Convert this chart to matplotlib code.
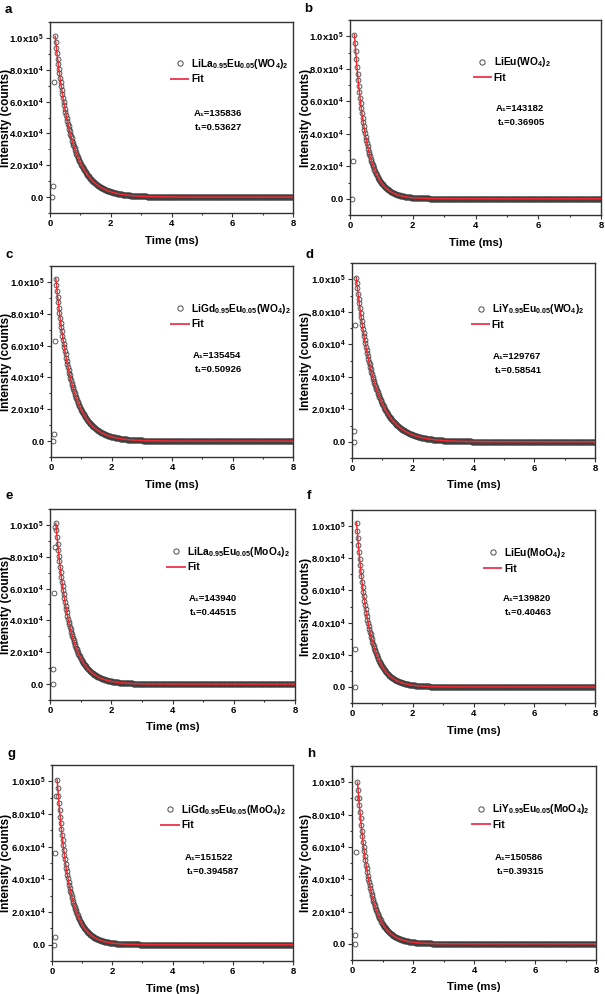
import numpy as np
import matplotlib

matplotlib.use("Agg")
import matplotlib.pyplot as plt
from matplotlib.lines import Line2D
from matplotlib.ticker import FixedLocator, MultipleLocator

plt.rcParams.update({
    "font.family": ["Liberation Sans", "DejaVu Sans"],
    "font.weight": "bold",
    "mathtext.fontset": "custom",
    "mathtext.rm": "Liberation Sans:bold",
    "mathtext.bf": "Liberation Sans:bold",
    "mathtext.it": "Liberation Sans:bold",
    "mathtext.default": "bf",
})

# panel data
panel_ids = ["a", "b", "c", "d", "e", "f", "g", "h"]
sample_names = [
    "LiLa$_{0.95}$Eu$_{0.05}$(WO$_4$)$_2$",
    "LiEu(WO$_4$)$_2$",
    "LiGd$_{0.95}$Eu$_{0.05}$(WO$_4$)$_2$",
    "LiY$_{0.95}$Eu$_{0.05}$(WO$_4$)$_2$",
    "LiLa$_{0.95}$Eu$_{0.05}$(MoO$_4$)$_2$",
    "LiEu(MoO$_4$)$_2$",
    "LiGd$_{0.95}$Eu$_{0.05}$(MoO$_4$)$_2$",
    "LiY$_{0.95}$Eu$_{0.05}$(MoO$_4$)$_2$",
]
amp_text = ["135836", "143182", "135454", "129767", "143940", "139820", "151522", "150586"]
tau_text = ["0.53627", "0.36905", "0.50926", "0.58541", "0.44515", "0.40463", "0.394587", "0.39315"]
tau_ms = [0.53627, 0.36905, 0.50926, 0.58541, 0.44515, 0.40463, 0.394587, 0.39315]

# rising edge before the decay (time in ms, counts)
rise_t = [
    [0.08, 0.11, 0.13],
    [0.07, 0.10],
    [0.08, 0.10, 0.13],
    [0.06, 0.08, 0.10],
    [0.09, 0.11, 0.13, 0.15, 0.17],
    [0.09, 0.11],
    [0.07, 0.09, 0.11, 0.13],
    [0.09, 0.11, 0.13, 0.15],
]
rise_y = [
    [0, 7100, 72000],
    [0, 23500],
    [0, 4400, 63000],
    [0, 6900, 72000],
    [0, 9400, 57000, 86000, 99000],
    [0, 23300],
    [0, 4700, 56000, 91000],
    [0, 5200, 57000, 90000],
]
peak_t = [0.17, 0.14, 0.16, 0.14, 0.19, 0.15, 0.17, 0.18]
peak_y = [101000, 101000, 102000, 101000, 101000, 102000, 101000, 100000]
time_step = 0.02
time_end = 8.0

y_ticks = [0, 20000, 40000, 60000, 80000, 100000]
y_tick_labels = ["0.0", "2.0x10$^4$", "4.0x10$^4$", "6.0x10$^4$", "8.0x10$^4$", "1.0x10$^5$"]
x_ticks = [0, 2, 4, 6, 8]

# layout in pixels (left, top, right, bottom)
W, H = 605, 994
boxes = [
    (50, 22, 293, 213), (350, 20, 601, 215),
    (51, 266, 293, 457), (352, 263, 595, 458),
    (50, 509, 295, 700), (352, 510, 595, 703),
    (52, 765, 293, 961), (352, 766, 596, 960),
]
leg_pos = [(0.535, 0.785), (0.53, 0.785), (0.533, 0.78), (0.53, 0.765),
           (0.515, 0.78), (0.58, 0.78), (0.49, 0.775), (0.53, 0.78)]
txt_pos = [(0.59, 0.52), (0.58, 0.545), (0.587, 0.53), (0.58, 0.52),
           (0.565, 0.53), (0.62, 0.54), (0.55, 0.53), (0.585, 0.53)]
label_pos = [(5, 10), (304, 9), (5, 255), (305, 255), (6, 496), (307, 496), (8, 754), (307, 754)]
ylabel_right = [12, 312, 12, 312, 12, 312, 12, 312]

fig = plt.figure(figsize=(W / 100, H / 100), dpi=100)

for i in range(8):
    l, t, r, b = boxes[i]
    w_px, h_px = r - l, b - t
    ax = fig.add_axes([l / W, 1 - b / H, w_px / W, h_px / H])

    tt = np.arange(peak_t[i], time_end + 1e-9, time_step)
    decay = peak_y[i] * np.exp(-(tt - peak_t[i]) / tau_ms[i])
    t_all = np.concatenate([rise_t[i], tt])
    y_all = np.concatenate([rise_y[i], decay])

    ax.plot(t_all, y_all, "o", ms=3.5, mfc="none", mec="#404040", mew=0.6, zorder=2)
    ax.plot(tt, decay, "-", color="#f22a32", lw=1.1, zorder=3)

    ax.set_xlim(0, 8)
    ax.set_ylim(-10000, 110000)
    ax.xaxis.set_major_locator(FixedLocator(x_ticks))
    ax.xaxis.set_minor_locator(MultipleLocator(1))
    ax.yaxis.set_major_locator(FixedLocator(y_ticks))
    ax.set_yticklabels(y_tick_labels)
    ax.yaxis.set_minor_locator(MultipleLocator(10000))
    ax.tick_params(which="both", direction="out", labelsize=6.8, pad=1.5,
                   color="#333333", width=0.8)
    ax.tick_params(which="major", length=3)
    ax.tick_params(which="minor", length=1.6)
    for s in ax.spines.values():
        s.set_linewidth(1.0)
        s.set_color("#333333")

    ax.set_xlabel("Time (ms)", fontsize=8.2, fontweight="bold")
    ax.set_ylabel("Intensity (counts)", fontsize=8.5, fontweight="bold")
    ax.xaxis.set_label_coords(0.5, -22.5 / h_px)
    ax.yaxis.set_label_coords((ylabel_right[i] - l) / w_px, 0.5)

    handles = [
        Line2D([], [], ls="none", marker="o", ms=3.8, mfc="none", mec="#4a4a4a", mew=0.7),
        Line2D([], [], color="#f0405a", lw=1.4),
    ]
    lx, ly = leg_pos[i]
    ax.legend(handles, [sample_names[i], "Fit"], loc="upper left",
              bbox_to_anchor=(lx - 0.037, ly + 0.033), frameon=False,
              fontsize=7.4, handlelength=1.7, handletextpad=0.25,
              labelspacing=0.35, borderpad=0, borderaxespad=0, numpoints=1)

    px, py = txt_pos[i]
    ax.text(px, py, "A\u2081=" + amp_text[i], transform=ax.transAxes,
            fontsize=6.8, fontweight="bold", va="center", ha="left")
    ax.text(px + 0.008, py - 0.072, "t\u2081=" + tau_text[i], transform=ax.transAxes,
            fontsize=6.8, fontweight="bold", va="center", ha="left")

    fx, fy = label_pos[i]
    fig.text(fx / W, 1 - fy / H, panel_ids[i], fontsize=9.5, fontweight="bold",
             ha="left", va="center")

fig.savefig("out.png", dpi=100)
